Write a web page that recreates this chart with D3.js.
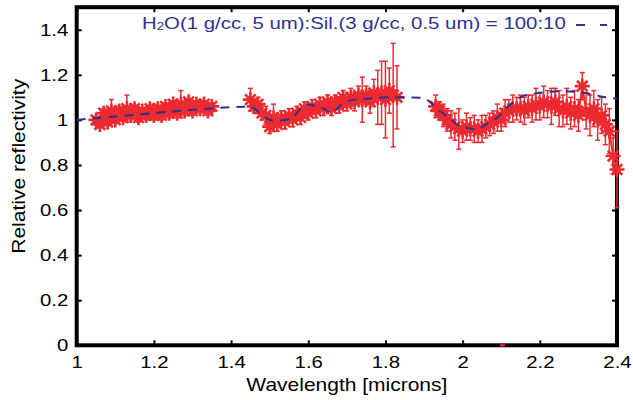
<!DOCTYPE html>
<html>
<head>
<meta charset="utf-8">
<script src="https://cdn.jsdelivr.net/npm/d3@7"></script>
<style>
body{margin:0;background:#fff;}
text{font-family:"Liberation Sans",Arial,Helvetica,sans-serif;fill:#000;}
</style>
</head>
<body>
<script>
// tick labels
var xTicks=[1,1.2,1.4,1.6,1.8,2,2.2,2.4];
var xTickLabels=["1","1.2","1.4","1.6","1.8","2","2.2","2.4"];
var yTicks=[0,0.2,0.4,0.6,0.8,1,1.2,1.4];
var yTickLabels=["0","0.2","0.4","0.6","0.8","1","1.2","1.4"];

// model spectrum (dashed blue)
var modelWl=[1.00,1.10,1.20,1.30,1.40,1.44,1.46,1.48,1.50,1.53,1.56,1.575,1.59,1.61,1.63,1.645,1.66,1.675,1.69,1.72,1.76,1.80,1.85,1.90,1.915,1.93,1.96,1.99,2.02,2.04,2.06,2.09,2.115,2.14,2.16,2.20,2.25,2.29,2.33,2.37,2.40];
var modelR=[1.000,1.015,1.030,1.045,1.056,1.058,1.050,1.020,1.000,0.997,1.012,1.040,1.068,1.065,1.058,1.045,1.030,1.050,1.075,1.090,1.095,1.100,1.100,1.095,1.080,1.055,1.015,0.975,0.962,0.958,0.980,1.010,1.055,1.090,1.108,1.120,1.127,1.125,1.115,1.100,1.095];

// measured spectrum, three windows
var seg1Wl=[1.05,1.06,1.07,1.08,1.09,1.10,1.11,1.12,1.13,1.14,1.15,1.16,1.17,1.18,1.19,1.20,1.21,1.22,1.23,1.24,1.25,1.26,1.27,1.28,1.29,1.30,1.31,1.32,1.33,1.34,1.35];
var seg1R=[1.00,0.98,1.03,0.99,1.04,1.00,1.04,1.01,1.05,1.02,1.05,1.01,1.04,1.02,1.05,1.02,1.05,1.02,1.06,1.03,1.07,1.03,1.07,1.04,1.08,1.04,1.07,1.05,1.07,1.04,1.06];
var seg1Err=[0.015,0.015,0.02,0.015,0.05,0.015,0.02,0.015,0.06,0.02,0.015,0.02,0.015,0.02,0.015,0.02,0.015,0.02,0.015,0.02,0.015,0.02,0.06,0.02,0.015,0.02,0.015,0.02,0.015,0.02,0.015];

var seg2Wl=[1.45,1.46,1.47,1.48,1.49,1.50,1.51,1.52,1.53,1.54,1.55,1.56,1.57,1.58,1.59,1.60,1.61,1.62,1.63,1.64,1.65,1.66,1.67,1.68,1.69,1.70,1.71,1.72,1.73,1.74,1.75,1.76,1.77,1.78,1.79,1.80,1.81,1.82,1.83];
var seg2R=[1.09,1.06,1.07,1.03,1.02,0.97,1.01,0.98,1.01,0.99,1.02,1.00,1.03,1.01,1.05,1.03,1.06,1.04,1.07,1.05,1.08,1.05,1.08,1.06,1.10,1.07,1.10,1.08,1.11,1.09,1.11,1.08,1.12,1.10,1.12,1.09,1.13,1.11,1.10];
var seg2Err=[0.05,0.03,0.03,0.03,0.04,0.03,0.06,0.03,0.03,0.03,0.03,0.03,0.03,0.03,0.03,0.03,0.03,0.03,0.03,0.03,0.03,0.03,0.03,0.03,0.03,0.03,0.04,0.04,0.04,0.10,0.04,0.05,0.06,0.12,0.14,0.17,0.10,0.23,0.14];

var seg3Wl=[1.93,1.94,1.95,1.96,1.97,1.98,1.99,2.00,2.01,2.02,2.03,2.04,2.05,2.06,2.07,2.08,2.09,2.10,2.11,2.12,2.13,2.14,2.15,2.16,2.17,2.18,2.19,2.20,2.21,2.22,2.23,2.24,2.25,2.26,2.27,2.28,2.29,2.30,2.31,2.32,2.33,2.34,2.35,2.36,2.37,2.38,2.39,2.40];
var seg3R=[1.06,1.04,1.02,1.00,0.98,0.97,0.96,0.95,0.97,0.96,0.96,0.95,0.96,0.97,0.98,0.99,1.01,1.00,1.03,1.04,1.05,1.05,1.05,1.04,1.06,1.05,1.07,1.06,1.08,1.07,1.06,1.08,1.05,1.04,1.06,1.03,1.05,1.02,1.15,1.04,1.02,1.05,1.00,1.02,0.98,0.95,0.84,0.78];
var seg3Err=[0.05,0.04,0.05,0.05,0.06,0.06,0.09,0.05,0.06,0.05,0.06,0.05,0.06,0.05,0.05,0.05,0.06,0.05,0.06,0.05,0.06,0.05,0.06,0.06,0.05,0.06,0.07,0.06,0.07,0.06,0.08,0.06,0.08,0.07,0.08,0.07,0.08,0.07,0.06,0.08,0.09,0.08,0.09,0.08,0.09,0.10,0.08,0.17];

// one stray point sitting on the x axis
var strayWl=[2.103], strayR=[-0.1], strayErr=[0.1];

var legendLabel=["H","2","O(1 g/cc, 5 um):Sil.(3 g/cc, 0.5 um) = 100:10"];

var width=633,height=400;
var padL=76.7,padR=617,padT=7.2,padB=345.3;
var SX=1.2; // glyphs in the picture are a bit wide
var red="#ec2a30", blue="#2e3192";

var svg=d3.select("body").append("svg")
	.attr("width",width)
	.attr("height",height);

var x=d3.scaleLinear().domain([1,2.4]).range([padL,padR]);
var y=d3.scaleLinear().domain([0,1.5]).range([padB,padT]);

//AXES
var gx=svg.append("g").attr("transform","translate(0,"+padB+")")
	.call(d3.axisBottom(x).tickValues(xTicks).tickFormat(function(d,i){return xTickLabels[i];})
		.tickSizeInner(-5).tickSizeOuter(0).tickPadding(11));
var gy=svg.append("g").attr("transform","translate("+padL+",0)")
	.call(d3.axisLeft(y).tickValues(yTicks).tickFormat(function(d,i){return yTickLabels[i];})
		.tickSizeInner(-5).tickSizeOuter(0).tickPadding(7));
svg.append("g").attr("transform","translate(0,"+padT+")")
	.call(d3.axisTop(x).tickValues(xTicks).tickFormat("").tickSizeInner(-5).tickSizeOuter(0));
svg.append("g").attr("transform","translate("+padR+",0)")
	.call(d3.axisRight(y).tickValues(yTicks).tickFormat("").tickSizeInner(-5).tickSizeOuter(0));

svg.selectAll(".domain").remove();
svg.selectAll(".tick line").attr("stroke","#000").attr("stroke-width",2);
svg.selectAll(".tick text").attr("transform","scale("+SX+",1)");
gx.attr("font-size",17).attr("font-family",null);
gy.attr("font-size",17).attr("font-family",null);

svg.append("rect")
	.attr("x",padL).attr("y",padT)
	.attr("width",padR-padL).attr("height",padB-padT)
	.attr("fill","none").attr("stroke","#000").attr("stroke-width",4);

//AXIS LABELS
svg.append("text")
	.attr("transform","translate("+((padL+padR)/2)+",391) scale("+SX+",1)")
	.attr("text-anchor","middle").attr("font-size",17.5)
	.text("Wavelength [microns]");
svg.append("text")
	.attr("transform","translate(24.5,"+((padT+padB)/2-10)+") rotate(-90) scale("+SX+",1)")
	.attr("text-anchor","middle").attr("font-size",17.5)
	.text("Relative reflectivity");

//DATA
var segments=[
	{wl:seg1Wl,r:seg1R,e:seg1Err},
	{wl:seg2Wl,r:seg2R,e:seg2Err},
	{wl:seg3Wl,r:seg3R,e:seg3Err}
];

var star="M-7.5,0H7.5M0,-7.5V7.5M-5.3,-5.3L5.3,5.3M-5.3,5.3L5.3,-5.3";
var line=d3.line().x(function(d){return x(d[0]);}).y(function(d){return y(d[1]);});

function drawErr(g,pts){
	var eb=g.selectAll("g.eb").data(pts).enter().append("g").attr("class","eb")
		.attr("stroke",red).attr("stroke-width",1.5);
	eb.append("line")
		.attr("x1",function(d){return x(d[0]);}).attr("x2",function(d){return x(d[0]);})
		.attr("y1",function(d){return y(d[1]-d[2]);}).attr("y2",function(d){return y(d[1]+d[2]);});
	eb.append("line")
		.attr("x1",function(d){return x(d[0])-2.5;}).attr("x2",function(d){return x(d[0])+2.5;})
		.attr("y1",function(d){return y(d[1]+d[2]);}).attr("y2",function(d){return y(d[1]+d[2]);});
	eb.append("line")
		.attr("x1",function(d){return x(d[0])-2.5;}).attr("x2",function(d){return x(d[0])+2.5;})
		.attr("y1",function(d){return y(d[1]-d[2]);}).attr("y2",function(d){return y(d[1]-d[2]);});
}

var dataG=svg.append("g");
segments.forEach(function(s){
	var pts=s.wl.map(function(w,i){return [w,s.r[i],s.e[i]];});
	var g=dataG.append("g");
	g.append("path").attr("d",line(pts))
		.attr("fill","none").attr("stroke",red).attr("stroke-width",2);
	drawErr(g,pts);
	g.selectAll("path.star").data(pts).enter().append("path")
		.attr("class","star")
		.attr("d",star)
		.attr("transform",function(d){return "translate("+x(d[0])+","+y(d[1])+")";})
		.attr("stroke",red).attr("stroke-width",2.6).attr("fill","none");
});

// stray point: only its top cap shows over the axis
svg.append("clipPath").attr("id","plotclip").append("rect")
	.attr("x",padL).attr("y",padT).attr("width",padR-padL).attr("height",padB-padT+1.5);
var stray=strayWl.map(function(w,i){return [w,strayR[i],strayErr[i]];});
var sg=svg.append("g").attr("clip-path","url(#plotclip)");
drawErr(sg,stray);
sg.selectAll("g.eb").attr("stroke-width",2);

//MODEL
svg.append("path")
	.datum(modelWl.map(function(w,i){return [w,modelR[i]];}))
	.attr("d",line.curve(d3.curveCatmullRom))
	.attr("fill","none").attr("stroke",blue).attr("stroke-width",2)
	.attr("stroke-dasharray","9,7");

//LEGEND
var lt=svg.append("text")
	.attr("transform","translate(142,29) scale("+SX+",1)")
	.attr("font-size",17).style("fill",blue);
lt.append("tspan").text(legendLabel[0]);
lt.append("tspan").attr("font-size",11).attr("dy",1).text(legendLabel[1]);
lt.append("tspan").attr("dy",-1).text(legendLabel[2]);
svg.append("line")
	.attr("x1",576).attr("x2",607).attr("y1",25).attr("y2",25)
	.attr("stroke",blue).attr("stroke-width",2).attr("stroke-dasharray","9,15");
</script>
</body>
</html>
